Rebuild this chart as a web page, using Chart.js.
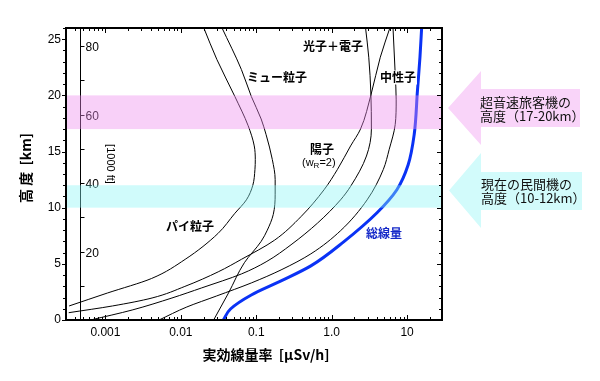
<!DOCTYPE html>
<html><head><meta charset="utf-8">
<script src="https://cdn.jsdelivr.net/npm/chart.js@4/dist/chart.umd.min.js"></script>
<style>html,body{margin:0;padding:0;background:#fff;}canvas{display:block;}</style>
</head><body>
<canvas id="c" width="600" height="381" style="width:600px;height:381px"></canvas>
<script>
// ---- data (dose rate μSv/h, altitude km) ----
const pionDose = [0.00033, 0.00106, 0.0041, 0.0114, 0.031, 0.052, 0.074, 0.090, 0.096, 0.097, 0.094, 0.078, 0.052, 0.030, 0.0199];
const pionAlt  = [1.25, 2.4, 3.7, 5.4, 7.7, 9.5, 10.7, 12.0, 13.4, 14.3, 15.5, 17.3, 19.9, 23.2, 26.1];
const muonDose = [0.0272, 0.0428, 0.0695, 0.116, 0.140, 0.168, 0.178, 0.178, 0.163, 0.135, 0.116, 0.086, 0.0635, 0.0346];
const muonAlt  = [0, 2.4, 5.1, 7.0, 8.0, 9.4, 11.2, 12.5, 14.3, 16.5, 17.9, 19.9, 22.3, 26.1];
const protonDose = [0.000326, 0.00124, 0.00415, 0.0113, 0.0313, 0.0635, 0.174, 0.391, 0.792, 1.19, 1.78, 2.41, 3.33, 4.41, 5.97];
const protonAlt  = [0.65, 1.25, 1.96, 2.99, 4.29, 5.4, 7.1, 9.2, 11.6, 13.4, 15.5, 17.0, 20.1, 23.4, 26.1];
const photonDose = [0.000635, 0.00226, 0.00762, 0.0189, 0.0635, 0.135, 0.289, 0.649, 1.31, 1.78, 2.89, 3.36, 3.31, 3.10, 2.80];
const photonAlt  = [0, 0.89, 1.96, 2.86, 4.1, 5.18, 6.7, 8.63, 10.7, 11.9, 14.6, 17.0, 20.1, 23.4, 26.1];
const neutronDose = [0.00514, 0.0120, 0.0298, 0.0859, 0.213, 0.529, 1.31, 2.95, 4.83, 5.79, 6.95, 7.16, 6.95, 6.49];
const neutronAlt  = [0, 1.16, 2.14, 3.30, 4.46, 5.89, 7.95, 10.7, 13.4, 15.2, 17.4, 19.6, 21.9, 26.1];
const totalDose = [0.0365, 0.0455, 0.0859, 0.213, 0.529, 1.44, 3.99, 7.31, 10.3, 12.4, 13.7, 14.8, 15.6];
const totalAlt  = [0, 0.98, 2.23, 3.48, 4.82, 6.96, 9.55, 11.6, 13.8, 16.5, 20.4, 23.4, 26.1];

const xTickValues = [0.001, 0.01, 0.1, 1, 10];
const xTickLabels = ['0.001', '0.01', '0.1', '1.0', '10'];
const yTickValues = [0, 5, 10, 15, 20, 25];
const ftTickValues = [10, 20, 30, 40, 50, 60, 70, 80];
const ftTickLabels = ['', '20', '', '40', '', '60', '', '80'];
const bandRanges = [[17, 20], [10, 12]];

const mk = (xs, ys) => xs.map((v, i) => ({x: v, y: ys[i]}));
const JP = '"Noto Sans CJK JP", sans-serif';
const LAT = '"Liberation Sans", Arial, sans-serif';

const decor = {
  id: 'decor',
  beforeDatasetsDraw(chart) {
    const {ctx, chartArea: a, scales: {y}} = chart;
    ctx.save();
    const fx = a.left + 14.5;
    ctx.strokeStyle = '#000'; ctx.lineWidth = 1;
    ctx.beginPath(); ctx.moveTo(fx, a.top); ctx.lineTo(fx, a.bottom); ctx.stroke();
    ctx.fillStyle = '#000'; ctx.font = '12px ' + LAT; ctx.textBaseline = 'middle'; ctx.textAlign = 'left';
    ftTickValues.forEach((v, i) => {
      const py = Math.round(y.getPixelForValue(v * 0.3048)) + 0.5;
      ctx.beginPath(); ctx.moveTo(fx, py); ctx.lineTo(fx + 4, py); ctx.stroke();
      if (ftTickLabels[i]) ctx.fillText(ftTickLabels[i], fx + 5, py + 1);
    });
    ctx.save();
    ctx.translate(110, 164); ctx.rotate(Math.PI / 2);
    ctx.font = '11px ' + LAT; ctx.textAlign = 'center';
    ctx.fillText('[1000 ft]', 0, 0);
    ctx.restore();
    ctx.restore();
  },
  afterDatasetsDraw(chart) {
    const {ctx, chartArea: a, scales: {x, y}} = chart;
    ctx.save();
    const bandCols = ['rgba(238,138,238,0.4)', 'rgba(138,246,246,0.4)'];
    bandRanges.forEach((r, i) => {
      const y1 = y.getPixelForValue(r[1]), y0 = y.getPixelForValue(r[0]);
      ctx.fillStyle = bandCols[i];
      ctx.fillRect(a.left + 1, y1, a.right - a.left - 2, y0 - y1);
    });
    ctx.strokeStyle = '#000'; ctx.lineWidth = 2;
    ctx.strokeRect(a.left, a.top, a.right - a.left, a.bottom - a.top);
    ctx.lineWidth = 1;
    for (let d = -4; d <= 1; d++) {
      for (let m = 1; m <= 9; m++) {
        const v = m * Math.pow(10, d);
        if (v < x.min || v > x.max) continue;
        const px = Math.round(x.getPixelForValue(v)) + 0.5;
        const L = m === 1 ? 5 : 3;
        ctx.beginPath();
        ctx.moveTo(px, a.bottom); ctx.lineTo(px, a.bottom - L);
        ctx.moveTo(px, a.top); ctx.lineTo(px, a.top + L);
        ctx.stroke();
      }
    }
    for (let k = 0; k <= 26; k++) {
      const py = Math.round(y.getPixelForValue(k)) + 0.5;
      const major = k % 5 === 0;
      ctx.beginPath();
      ctx.moveTo(a.left, py); ctx.lineTo(a.left - (major ? 4 : 3), py);
      ctx.moveTo(a.right, py); ctx.lineTo(a.right - (major ? 5 : 3), py);
      ctx.stroke();
    }
    const arrow = (tipX, tipY, baseX, headT, headB, bodyT, bodyB, endX, col) => {
      ctx.fillStyle = col;
      ctx.beginPath();
      ctx.moveTo(tipX, tipY); ctx.lineTo(baseX, headT); ctx.lineTo(baseX, bodyT);
      ctx.lineTo(endX, bodyT); ctx.lineTo(endX, bodyB); ctx.lineTo(baseX, bodyB);
      ctx.lineTo(baseX, headB); ctx.closePath(); ctx.fill();
    };
    arrow(448, 108, 481, 71, 145, 89, 127, 580, 'rgb(249,212,249)');
    arrow(449, 190.5, 481, 153, 228, 172, 210, 582, 'rgb(210,251,251)');
    ctx.fillStyle = '#111'; ctx.font = '13px ' + JP; ctx.textAlign = 'left'; ctx.textBaseline = 'middle';
    ctx.fillText('超音速旅客機の', 480, 102.5);
    ctx.fillText('高度（17-20km）', 480, 116.5);
    ctx.fillText('現在の民間機の', 481, 184.5);
    ctx.fillText('高度（10-12km）', 481, 198);
    ctx.textAlign = 'center';
    const lab = (t, cx, cy, col, bg) => {
      ctx.font = 'bold 12px ' + JP;
      if (bg) {
        const w = ctx.measureText(t).width;
        ctx.fillStyle = '#fff'; ctx.fillRect(cx - w / 2 - 1, cy - 7, w + 2, 14);
      }
      ctx.fillStyle = col; ctx.fillText(t, cx, cy);
    };
    lab('光子＋電子', 333, 46, '#000');
    lab('ミュー粒子', 277, 77.5, '#000');
    lab('中性子', 398, 77.5, '#000', true);
    lab('陽子', 322, 149, '#000');
    lab('パイ粒子', 190, 226, '#000');
    lab('総線量', 384, 233, '#1428c8');
    ctx.font = '11px ' + LAT; ctx.fillStyle = '#000'; ctx.textAlign = 'left';
    let sx = 302;
    ctx.fillText('(w', sx, 162.5); sx += ctx.measureText('(w').width;
    ctx.font = '8px ' + LAT; ctx.fillText('R', sx, 166); sx += ctx.measureText('R').width;
    ctx.font = '11px ' + LAT; ctx.fillText('=2)', sx, 162.5);
    ctx.fillStyle = '#000';
    ctx.font = 'bold 14px ' + JP; ctx.textAlign = 'center';
    ctx.fillText('実効線量率  [μSv/h]', 266, 355);
    ctx.save();
    ctx.translate(26, 168); ctx.rotate(-Math.PI / 2);
    ctx.font = 'bold 14px ' + JP;
    ctx.fillText('高 度  [km]', 0, 0);
    ctx.restore();
    ctx.restore();
  }
};

const lineOpts = {showLine: true, pointRadius: 0, cubicInterpolationMode: 'monotone', fill: false, indexAxis: 'y'};
const blackLine = Object.assign({borderColor: '#000', borderWidth: 1}, lineOpts);
new Chart(document.getElementById('c'), {
  type: 'scatter',
  data: {
    datasets: [
      Object.assign({label: 'パイ粒子', data: mk(pionDose, pionAlt)}, blackLine),
      Object.assign({label: 'ミュー粒子', data: mk(muonDose, muonAlt)}, blackLine),
      Object.assign({label: '陽子', data: mk(protonDose, protonAlt)}, blackLine),
      Object.assign({label: '光子＋電子', data: mk(photonDose, photonAlt)}, blackLine),
      Object.assign({label: '中性子', data: mk(neutronDose, neutronAlt)}, blackLine),
      Object.assign({label: '総線量', data: mk(totalDose, totalAlt), borderColor: '#0a32f5', borderWidth: 3}, lineOpts)
    ]
  },
  options: {
    indexAxis: 'y',
    responsive: false, animation: false, devicePixelRatio: 1,
    layout: {padding: {left: 0, right: 158, top: 28, bottom: 0}},
    plugins: {legend: {display: false}, tooltip: {enabled: false}},
    scales: {
      x: {
        type: 'logarithmic', min: 0.00033, max: 29,
        grid: {display: false, drawTicks: false}, border: {display: false},
        afterBuildTicks(s) { s.ticks = xTickValues.map(v => ({value: v})); },
        ticks: {autoSkip: false, maxRotation: 0, padding: 5, color: '#000', font: {family: LAT, size: 12},
          callback: (v, i) => xTickLabels[i]},
        afterFit(s) { s.height = 61; }
      },
      y: {
        type: 'linear', min: 0, max: 26,
        grid: {display: false, drawTicks: false}, border: {display: false},
        afterBuildTicks(s) { s.ticks = yTickValues.map(v => ({value: v})); },
        ticks: {padding: 5, color: '#000', font: {family: LAT, size: 12}},
        afterFit(s) { s.width = 66; }
      }
    }
  },
  plugins: [decor]
});
</script>
</body></html>
